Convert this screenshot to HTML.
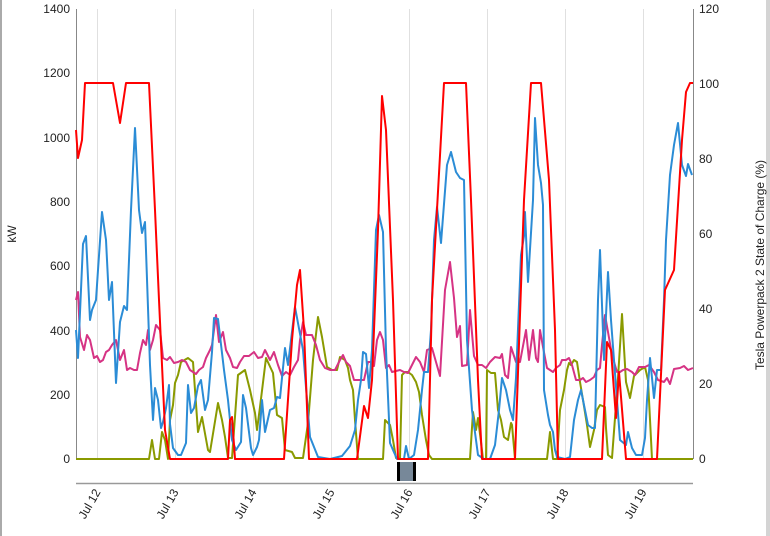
<!DOCTYPE html>
<html><head><meta charset="utf-8"><style>
html,body{margin:0;padding:0;background:#fff;}
svg{display:block;font-family:"Liberation Sans",sans-serif;}
</style></head><body>
<svg width="770" height="536" viewBox="0 0 770 536" xmlns="http://www.w3.org/2000/svg">
<rect x="0" y="0" width="2" height="536" fill="#aaa"/>
<rect x="766" y="0" width="4" height="536" fill="#d4d4d4"/>
<g stroke="#e0e0e0" stroke-width="1">
<line x1="97.5" y1="9" x2="97.5" y2="459"/><line x1="175.5" y1="9" x2="175.5" y2="459"/>
<line x1="253.5" y1="9" x2="253.5" y2="459"/><line x1="331.5" y1="9" x2="331.5" y2="459"/>
<line x1="409.5" y1="9" x2="409.5" y2="459"/><line x1="487.5" y1="9" x2="487.5" y2="459"/>
<line x1="565.5" y1="9" x2="565.5" y2="459"/><line x1="643.5" y1="9" x2="643.5" y2="459"/>
</g>
<line x1="76.5" y1="9" x2="76.5" y2="459" stroke="#888"/>
<line x1="693.5" y1="9" x2="693.5" y2="459" stroke="#888"/>
<line x1="76" y1="483.5" x2="693" y2="483.5" stroke="#999" stroke-width="1.5"/>
<g font-size="12" fill="#222" text-anchor="end">
<text x="70" y="13">1400</text><text x="70" y="77">1200</text><text x="70" y="142">1000</text>
<text x="70" y="206">800</text><text x="70" y="270">600</text><text x="70" y="335">400</text>
<text x="70" y="399">200</text><text x="70" y="463">0</text>
</g>
<g font-size="12" fill="#222">
<text x="699" y="13">120</text><text x="699" y="88">100</text><text x="699" y="163">80</text>
<text x="699" y="238">60</text><text x="699" y="313">40</text><text x="699" y="388">20</text>
<text x="699" y="463">0</text>
</g>
<text transform="translate(16,234) rotate(-90)" font-size="12" fill="#222" text-anchor="middle">kW</text>
<text transform="translate(764,265) rotate(-90)" font-size="12" fill="#222" text-anchor="middle">Tesla Powerpack 2 State of Charge (%)</text>
<g font-size="12" fill="#222" text-anchor="end">
<text transform="translate(101,492) rotate(-60)">Jul 12</text>
<text transform="translate(179,492) rotate(-60)">Jul 13</text>
<text transform="translate(257,492) rotate(-60)">Jul 14</text>
<text transform="translate(335,492) rotate(-60)">Jul 15</text>
<text transform="translate(413,492) rotate(-60)">Jul 16</text>
<text transform="translate(491,492) rotate(-60)">Jul 17</text>
<text transform="translate(569,492) rotate(-60)">Jul 18</text>
<text transform="translate(647,492) rotate(-60)">Jul 19</text>
</g>
<g fill="none" stroke-width="2" stroke-linejoin="round">
<polyline stroke="#8a9a00" points="76,459 149,459 152,440 155,459 159,459 162,432 165,440 168,459 170,420 173,405 175,383 178,375 181,362 188,358 193,362 198,432 202,417 208,450 210,452 218,403 222,420 225,437 228,458 232,458 238,375 245,370 250,390 255,413 257,430 260,407 266,358 273,373 277,415 282,418 285,450 292,452 295,458 303,458 308,423 313,360 318,317 322,337 327,367 332,370 337,370 340,357 345,360 348,368 350,380 353,390 355,420 358,459 383,459 385,420 390,425 393,440 396,458 400,459 402,375 405,372 408,372 412,375 416,382 419,392 422,415 426,440 429,455 432,459 470,459 473,412 476,430 478,418 481,442 483,459 486,459 487,370 491,373 495,373 498,410 501,420 504,437 508,440 511,423 512,425 515,459 547,459 550,432 553,459 557,459 560,410 564,390 567,370 569,363 571,365 574,360 577,362 580,382 583,400 587,425 590,447 594,430 597,410 600,405 605,407 606,428 608,455 612,458 618,378 622,314 626,382 630,398 634,376 640,370 645,367 648,380 652,459 693,459"/>
<polyline stroke="#d63384" points="76,300 78,292 80,337 84,350 87,335 90,340 94,358 97,356 100,362 103,360 106,352 109,350 112,345 116,340 120,360 124,350 127,370 130,368 134,370 137,370 140,353 143,340 146,345 148,330 150,350 153,340 156,325 160,330 163,358 167,360 170,357 174,363 178,362 182,360 186,362 190,370 193,372 196,374 199,370 203,367 206,358 210,350 212,345 216,315 219,342 223,332 226,350 230,358 233,367 237,368 240,362 244,356 249,356 254,352 258,358 262,357 265,350 270,360 274,352 278,365 282,376 286,372 290,375 294,367 298,360 300,340 303,322 306,335 312,335 316,345 320,360 325,368 330,370 335,370 340,360 343,355 346,362 350,366 354,380 360,380 364,380 368,362 371,362 374,366 377,340 380,332 383,340 386,368 389,365 392,372 396,371 400,370 404,372 408,373 412,365 416,357 420,362 424,372 427,350 432,348 434,355 440,376 445,290 450,262 454,298 457,337 460,326 462,366 467,365 470,310 474,356 478,365 482,365 486,368 490,362 495,357 500,358 502,354 505,375 508,378 511,347 516,362 520,362 526,330 529,360 533,330 536,358 538,362 540,330 543,347 547,368 553,372 556,368 560,365 562,360 566,360 569,358 572,365 576,380 580,380 583,378 586,382 590,380 594,377 597,370 600,368 602,345 605,315 608,332 612,355 617,372 620,372 623,370 627,369 632,372 635,375 639,367 645,367 649,365 654,372 658,380 664,382 667,378 670,384 674,369 680,368 684,366 688,370 693,368"/>
<polyline stroke="#2b8cd6" points="76,330 78,358 83,244 86,236 90,320 92,310 96,300 98,270 102,212 106,240 109,300 112,282 116,383 120,322 124,306 127,310 131,210 135,128 139,210 142,233 145,222 150,365 153,420 155,388 158,400 161,428 163,422 166,408 169,385 170,424 173,448 178,455 181,455 186,443 188,385 191,413 194,408 198,386 201,380 205,410 208,400 212,352 214,318 218,319 224,370 228,400 232,440 236,450 241,442 243,395 246,408 251,448 253,455 257,447 259,440 262,400 265,432 270,410 274,408 277,397 280,398 285,348 288,365 295,307 303,350 310,437 318,457 330,459 342,456 350,446 355,430 358,400 361,380 363,352 366,354 369,388 372,350 376,230 379,215 383,232 386,350 390,443 393,450 397,459 404,459 406,446 409,459 414,455 418,430 422,390 424,372 428,372 431,330 434,240 437,207 441,243 447,165 451,152 456,172 460,178 464,180 467,340 472,410 478,455 484,459 490,459 495,445 499,410 502,378 506,390 510,410 513,420 516,378 521,255 524,236 525,212 528,282 533,200 535,118 538,165 541,183 543,205 544,390 548,415 550,425 553,432 555,450 557,457 565,459 570,457 574,420 578,400 581,390 584,405 588,425 592,428 595,428 598,300 600,250 604,360 608,272 611,320 617,400 620,440 626,445 628,432 632,448 636,455 642,455 645,438 647,400 650,358 654,398 657,370 661,370 664,300 666,240 670,175 674,145 678,123 682,165 686,176 688,164 692,175"/>
<polyline stroke="#ff0000" points="76,130 78,158 82,140 85,83 113,83 120,123 126,83 149,83 155,210 159,300 165,430 170,459 228,459 230,420 232,417 235,459 284,459 292,340 297,285 300,270 304,330 309,459 357,459 364,406 368,418 372,380 378,230 382,96 386,130 393,300 398,459 428,459 432,300 444,83 466,83 471,200 478,380 482,459 515,459 524,200 531,83 541,83 549,180 555,330 558,459 602,459 607,342 611,350 616,418 619,372 626,459 657,459 665,290 674,270 682,140 686,92 690,83 693,83"/>
</g>
<rect x="397" y="462" width="19" height="19" fill="#000"/>
<rect x="400" y="462" width="13" height="19" fill="#778899"/>
</svg>
</body></html>
